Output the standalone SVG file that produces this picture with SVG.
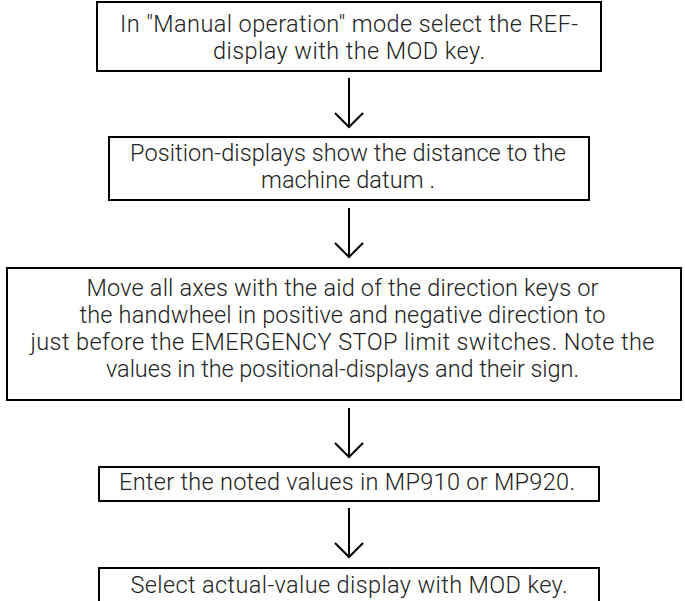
<svg xmlns="http://www.w3.org/2000/svg" width="685" height="601" viewBox="0 0 685 601">
<style>
.box{fill:#fff;stroke:#000;stroke-width:2}
.t{font-family:Roboto,"Liberation Sans",Arial,sans-serif;font-weight:300;font-size:23.5px;fill:#222;text-anchor:middle}
.arr{fill:none;stroke:#000;stroke-width:2}
</style>
<g id="connectors">
<line class="arr" x1="349" y1="78" x2="349" y2="127"/><path class="arr" d="M335,113 L349,127 L363,113"/>
<line class="arr" x1="349" y1="208" x2="349" y2="257"/><path class="arr" d="M335,243 L349,257 L363,243"/>
<line class="arr" x1="349" y1="408" x2="349" y2="457"/><path class="arr" d="M335,443 L349,457 L363,443"/>
<line class="arr" x1="349" y1="508" x2="349" y2="557"/><path class="arr" d="M335,543 L349,557 L363,543"/>
</g>
<g id="n1">
<rect class="box" x="97" y="2" width="504" height="69"/>
<text class="t" x="349" y="32" textLength="458">In "Manual operation" mode select the REF-</text>
<text class="t" x="349" y="59" textLength="272">display with the MOD key.</text>
</g>
<g id="n2">
<rect class="box" x="109" y="137" width="480" height="63"/>
<text class="t" x="348" y="161" textLength="436">Position-displays show the distance to the</text>
<text class="t" x="348" y="188" textLength="174">machine datum .</text>
</g>
<g id="n3">
<rect class="box" x="7" y="268" width="674" height="132"/>
<text class="t" x="342.5" y="296" textLength="512">Move all axes with the aid of the direction keys or</text>
<text class="t" x="342.5" y="323" textLength="526">the handwheel in positive and negative direction to</text>
<text class="t" x="342.5" y="350" textLength="624">just before the EMERGENCY STOP limit switches. Note the</text>
<text class="t" x="342.5" y="377" textLength="473">values in the positional-displays and their sign.</text>
</g>
<g id="n4">
<rect class="box" x="99" y="467" width="500" height="34"/>
<text class="t" x="347" y="490" textLength="456">Enter the noted values in MP910 or MP920.</text>
</g>
<g id="n5">
<rect class="box" x="99" y="568" width="500" height="50"/>
<text class="t" x="349" y="593" textLength="437">Select actual-value display with MOD key.</text>
</g>
</svg>
